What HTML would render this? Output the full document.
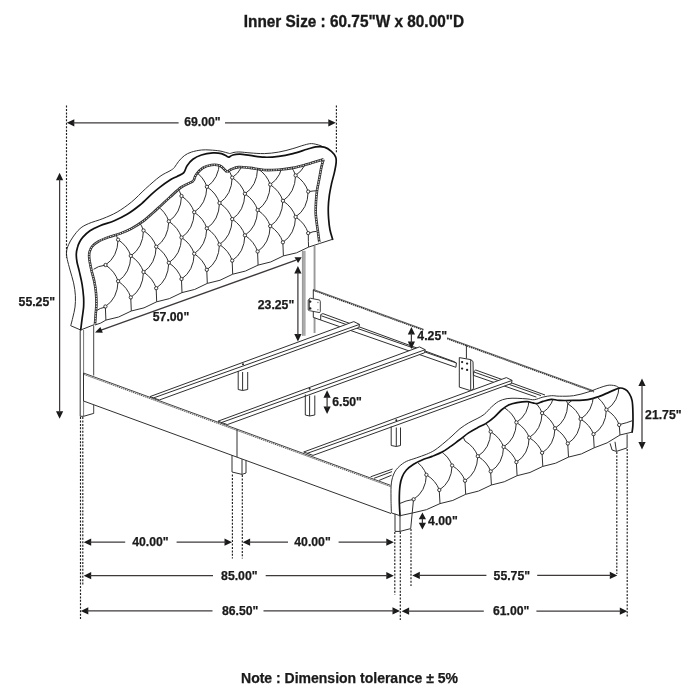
<!DOCTYPE html><html><head><meta charset="utf-8"><title>Bed dimensions</title><style>html,body{margin:0;padding:0;background:#fff}svg{display:block}</style></head><body><svg width="700" height="700" viewBox="0 0 700 700" style="will-change:transform;font-family:'Liberation Sans',sans-serif;font-weight:bold;fill:#1a1a1a;stroke-linecap:butt">
<rect width="700" height="700" fill="#fff"/>
<text x="243.8" y="26.8" font-size="16.3" textLength="220.3" lengthAdjust="spacingAndGlyphs" stroke="#1a1a1a" stroke-width="0.35">Inner Size : 60.75&quot;W x 80.00&quot;D</text>
<text x="349.5" y="682.5" font-size="14.0" text-anchor="middle" stroke="#1a1a1a" stroke-width="0.25">Note : Dimension tolerance ± 5%</text>
<path d="M70.7 325.7 C71.1 324.3 72.2 320.2 72.9 317.1 C73.6 314.0 74.6 310.7 75.0 307.1 C75.4 303.5 75.6 299.7 75.4 295.7 C75.2 291.7 74.5 287.2 73.6 282.9 C72.7 278.6 71.0 273.9 70.0 270.0 C69.0 266.1 67.9 262.5 67.3 259.5 C66.7 256.5 66.3 254.5 66.5 252.0 C66.7 249.5 67.5 247.1 68.6 244.6 C69.7 242.1 71.0 239.8 72.9 237.1 C74.8 234.4 77.4 230.8 80.0 228.6 C82.6 226.3 84.8 225.3 88.6 223.6 C92.4 221.9 98.2 220.5 102.9 218.6 C107.7 216.7 112.3 214.8 117.1 212.1 C121.8 209.3 126.6 206.0 131.4 202.1 C136.2 198.2 140.9 192.9 145.7 188.6 C150.5 184.3 155.9 179.4 160.0 176.4 C164.1 173.4 167.6 172.3 170.0 170.8 C172.4 169.3 172.9 169.2 174.3 167.6 C175.7 166.0 176.9 163.4 178.6 161.4 C180.3 159.4 182.2 157.2 184.3 155.7 C186.4 154.1 188.6 153.0 191.4 152.1 C194.2 151.2 198.3 150.3 201.4 150.0 C204.5 149.7 206.9 149.8 210.0 150.0 C213.1 150.2 217.2 150.5 220.0 151.0 C222.8 151.5 225.3 152.4 227.0 152.8 C228.7 153.2 229.5 153.5 230.0 153.6" fill="none" stroke="#303030" stroke-width="1.0" />
<path d="M230.0 153.6 C230.7 153.4 232.3 152.7 234.0 152.4 C235.7 152.1 237.3 151.9 240.0 152.0 C242.7 152.1 245.9 152.6 250.0 152.9 C254.1 153.2 259.5 153.7 264.3 153.6 C269.1 153.5 273.8 152.9 278.6 152.1 C283.4 151.3 288.6 149.8 292.9 148.6 C297.2 147.4 301.2 145.8 304.3 145.0 C307.4 144.2 309.0 143.6 311.4 143.6 C313.8 143.6 316.7 144.5 318.6 145.0 C320.5 145.5 322.3 146.5 323.0 146.8" fill="none" stroke="#303030" stroke-width="1.0" />
<path d="M70.7 325.7 L80.7 330.0" fill="none" stroke="#303030" stroke-width="1.0" />
<path d="M80.7 330.0 C80.9 328.1 81.6 322.4 82.1 318.6 C82.6 314.8 83.3 310.7 83.6 307.1 C83.8 303.5 83.8 300.9 83.6 297.1 C83.3 293.3 82.8 288.6 82.1 284.3 C81.4 280.0 80.1 275.1 79.3 271.4 C78.5 267.7 77.5 264.9 77.0 262.0 C76.5 259.1 76.2 256.5 76.3 254.0 C76.4 251.5 77.0 249.0 77.6 247.0 C78.1 245.0 78.7 243.7 79.6 242.0 C80.5 240.3 81.2 239.0 82.9 237.1 C84.6 235.2 87.2 232.6 90.0 230.7 C92.8 228.8 96.0 227.4 100.0 225.7 C104.0 224.0 109.8 222.6 114.3 220.7 C118.8 218.8 122.8 216.9 127.1 214.3 C131.4 211.7 135.9 208.3 140.0 205.0 C144.1 201.7 148.1 197.3 151.4 194.3 C154.7 191.3 156.9 189.5 160.0 187.1 C163.1 184.7 167.2 181.8 170.0 180.0 C172.8 178.2 174.8 177.6 177.1 176.4 C179.4 175.2 181.9 174.7 183.6 172.9 C185.3 171.1 185.5 168.0 187.1 165.7 C188.7 163.4 190.5 161.1 192.9 159.3 C195.3 157.5 198.1 156.1 201.4 155.0 C204.7 153.9 209.6 153.1 212.9 152.9 C216.2 152.7 219.0 153.0 221.4 153.6 C223.8 154.2 225.8 155.8 227.1 156.4 C228.4 157.0 228.7 157.1 229.0 157.2 M229.0 157.2 C229.7 156.8 231.1 155.5 232.9 155.0 C234.7 154.5 237.2 154.1 240.0 154.2 C242.8 154.3 245.9 154.9 250.0 155.4 C254.1 155.9 259.5 157.0 264.3 157.2 C269.1 157.4 273.8 157.0 278.6 156.4 C283.4 155.8 288.1 154.8 292.9 153.6 C297.6 152.4 303.3 150.4 307.1 149.3 C310.9 148.2 312.8 147.3 315.7 146.9 C318.6 146.5 321.7 146.3 324.3 147.1 C326.9 147.8 329.5 149.7 331.4 151.4 C333.3 153.1 334.9 155.2 335.7 157.1 C336.5 159.0 336.3 160.3 336.1 162.9 C335.9 165.5 335.1 169.3 334.3 172.9 C333.5 176.5 332.2 180.5 331.4 184.3 C330.6 188.1 329.8 191.9 329.3 195.7 C328.8 199.5 328.4 203.3 328.3 207.1 C328.2 210.9 328.3 214.8 328.6 218.6 C328.9 222.4 329.3 226.6 330.0 230.0 C330.7 233.4 332.2 237.8 332.6 239.3" fill="none" stroke="#111" stroke-width="1.7" stroke-linecap="round" stroke-linejoin="round"/>
<path d="M95.0 324.3 C95.1 322.6 95.5 317.6 95.7 314.3 C95.9 311.0 96.4 307.9 96.4 304.3 C96.5 300.7 96.3 296.7 96.0 292.9 C95.7 289.1 95.1 285.2 94.3 281.4 C93.5 277.6 92.2 273.8 91.4 270.0 C90.6 266.2 89.6 261.6 89.3 258.6 C89.0 255.6 89.0 254.0 89.5 252.0 C90.0 250.0 90.6 248.3 92.1 246.5 C93.6 244.7 95.8 243.0 98.6 241.4 C101.3 239.8 105.0 238.4 108.6 237.1 C112.2 235.8 116.2 235.0 120.0 233.6 C123.8 232.2 127.6 230.6 131.4 228.6 C135.2 226.6 139.3 224.0 142.9 221.4 C146.5 218.8 150.1 215.4 152.9 212.9 C155.8 210.4 157.2 209.0 160.0 206.4 C162.8 203.8 166.4 200.3 170.0 197.1 C173.6 193.9 177.8 189.6 181.4 187.1 C185.0 184.6 189.4 183.2 191.4 182.1 C193.4 181.0 193.2 180.9 193.6 180.7 M193.6 180.7 C194.1 179.6 194.8 176.4 196.4 174.3 C198.0 172.2 200.4 169.5 202.9 167.9 C205.4 166.3 208.6 165.4 211.4 165.0 C214.2 164.6 217.7 164.9 220.0 165.7 C222.3 166.5 223.8 168.9 225.0 170.0 C226.2 171.1 226.8 171.8 227.1 172.1 M227.1 172.1 C227.8 171.6 229.5 170.1 231.4 169.3 C233.3 168.5 235.5 167.3 238.6 167.1 C241.7 166.9 245.7 167.4 250.0 167.9 C254.3 168.4 259.5 169.7 264.3 170.0 C269.1 170.3 273.8 170.0 278.6 169.7 C283.4 169.3 288.1 168.8 292.9 167.9 C297.6 167.0 302.0 165.7 307.1 164.3 C312.2 162.9 320.9 160.1 323.6 159.3 M323.6 159.3 C323.2 160.6 322.1 163.9 321.4 167.1 C320.7 170.3 320.0 174.8 319.3 178.6 C318.6 182.4 317.7 186.2 317.1 190.0 C316.6 193.8 316.2 197.6 316.0 201.4 C315.8 205.2 315.6 209.1 315.7 212.9 C315.8 216.7 316.5 221.2 316.9 224.3 C317.3 227.4 317.5 228.4 317.9 231.4 C318.3 234.4 319.1 240.3 319.3 242.1" fill="none" stroke="#303030" stroke-width="2.6" />
<path d="M95.0 324.3 C95.1 322.6 95.5 317.6 95.7 314.3 C95.9 311.0 96.4 307.9 96.4 304.3 C96.5 300.7 96.3 296.7 96.0 292.9 C95.7 289.1 95.1 285.2 94.3 281.4 C93.5 277.6 92.2 273.8 91.4 270.0 C90.6 266.2 89.6 261.6 89.3 258.6 C89.0 255.6 89.0 254.0 89.5 252.0 C90.0 250.0 90.6 248.3 92.1 246.5 C93.6 244.7 95.8 243.0 98.6 241.4 C101.3 239.8 105.0 238.4 108.6 237.1 C112.2 235.8 116.2 235.0 120.0 233.6 C123.8 232.2 127.6 230.6 131.4 228.6 C135.2 226.6 139.3 224.0 142.9 221.4 C146.5 218.8 150.1 215.4 152.9 212.9 C155.8 210.4 157.2 209.0 160.0 206.4 C162.8 203.8 166.4 200.3 170.0 197.1 C173.6 193.9 177.8 189.6 181.4 187.1 C185.0 184.6 189.4 183.2 191.4 182.1 C193.4 181.0 193.2 180.9 193.6 180.7 M193.6 180.7 C194.1 179.6 194.8 176.4 196.4 174.3 C198.0 172.2 200.4 169.5 202.9 167.9 C205.4 166.3 208.6 165.4 211.4 165.0 C214.2 164.6 217.7 164.9 220.0 165.7 C222.3 166.5 223.8 168.9 225.0 170.0 C226.2 171.1 226.8 171.8 227.1 172.1 M227.1 172.1 C227.8 171.6 229.5 170.1 231.4 169.3 C233.3 168.5 235.5 167.3 238.6 167.1 C241.7 166.9 245.7 167.4 250.0 167.9 C254.3 168.4 259.5 169.7 264.3 170.0 C269.1 170.3 273.8 170.0 278.6 169.7 C283.4 169.3 288.1 168.8 292.9 167.9 C297.6 167.0 302.0 165.7 307.1 164.3 C312.2 162.9 320.9 160.1 323.6 159.3 M323.6 159.3 C323.2 160.6 322.1 163.9 321.4 167.1 C320.7 170.3 320.0 174.8 319.3 178.6 C318.6 182.4 317.7 186.2 317.1 190.0 C316.6 193.8 316.2 197.6 316.0 201.4 C315.8 205.2 315.6 209.1 315.7 212.9 C315.8 216.7 316.5 221.2 316.9 224.3 C317.3 227.4 317.5 228.4 317.9 231.4 C318.3 234.4 319.1 240.3 319.3 242.1" fill="none" stroke="#fff" stroke-width="0.9" stroke-dasharray="1.4 1.1"/>
<clipPath id="hbclip"><path d="M95.0 324.3 L95.7 314.3 L96.4 304.3 L96.0 292.9 L94.3 281.4 L91.4 270.0 L89.3 258.6 L89.5 252.0 L92.1 246.5 L98.6 241.4 L108.6 237.1 L120.0 233.6 L131.4 228.6 L142.9 221.4 L152.9 212.9 L160.0 206.4 L170.0 197.1 L181.4 187.1 L191.4 182.1 L193.6 180.7 L196.4 174.3 L202.9 167.9 L211.4 165.0 L220.0 165.7 L225.0 170.0 L227.1 172.1 L231.4 169.3 L238.6 167.1 L250.0 167.9 L264.3 170.0 L278.6 169.7 L292.9 167.9 L307.1 164.3 L323.6 159.3 L321.4 167.1 L319.3 178.6 L317.1 190.0 L316.0 201.4 L315.7 212.9 L316.9 224.3 L317.9 231.4 L319.3 242.1 L308.6 247.1 L283.4 255.9 L258.1 265.1 L232.7 274.2 L207.3 283.4 L182.0 292.6 L156.7 301.8 L131.3 311.0 L105.9 320.1 L95 325 Z"/></clipPath>
<g clip-path="url(#hbclip)">
<path d="M67.4 133.6 Q76.9 139.9 80.1 149.7" fill="none" stroke="#303030" stroke-width="1.0" />
<path d="M67.4 133.6 Q66.9 150.9 54.7 158.9" fill="none" stroke="#303030" stroke-width="1.0" />
<path d="M92.8 124.4 Q102.3 130.7 105.5 140.5" fill="none" stroke="#303030" stroke-width="1.0" />
<path d="M92.8 124.4 Q92.3 141.7 80.1 149.7" fill="none" stroke="#303030" stroke-width="1.0" />
<path d="M80.1 149.7 Q89.6 156.0 92.8 165.9" fill="none" stroke="#303030" stroke-width="1.0" />
<path d="M80.1 149.7 Q79.6 167.0 67.4 175.1" fill="none" stroke="#303030" stroke-width="1.0" />
<path d="M67.4 175.1 Q76.9 181.4 80.1 191.2" fill="none" stroke="#303030" stroke-width="1.0" />
<path d="M67.4 175.1 Q66.9 192.4 54.7 200.4" fill="none" stroke="#303030" stroke-width="1.0" />
<path d="M105.5 140.5 Q115.0 146.8 118.1 156.7" fill="none" stroke="#303030" stroke-width="1.0" />
<path d="M105.5 140.5 Q105.0 157.8 92.8 165.9" fill="none" stroke="#303030" stroke-width="1.0" />
<path d="M92.8 165.9 Q102.3 172.2 105.5 182.0" fill="none" stroke="#303030" stroke-width="1.0" />
<path d="M92.8 165.9 Q92.3 183.2 80.1 191.2" fill="none" stroke="#303030" stroke-width="1.0" />
<path d="M80.1 191.2 Q89.6 197.5 92.8 207.4" fill="none" stroke="#303030" stroke-width="1.0" />
<path d="M80.1 191.2 Q79.6 208.5 67.4 216.6" fill="none" stroke="#303030" stroke-width="1.0" />
<path d="M67.4 216.6 Q76.9 222.9 80.1 232.7" fill="none" stroke="#303030" stroke-width="1.0" />
<path d="M67.4 216.6 Q66.9 233.9 54.8 241.9" fill="none" stroke="#303030" stroke-width="1.0" />
<path d="M130.8 131.4 Q140.3 137.7 143.5 147.5" fill="none" stroke="#303030" stroke-width="1.0" />
<path d="M130.8 131.4 Q130.3 148.7 118.1 156.7" fill="none" stroke="#303030" stroke-width="1.0" />
<path d="M118.1 156.7 Q127.6 163.0 130.8 172.9" fill="none" stroke="#303030" stroke-width="1.0" />
<path d="M118.1 156.7 Q117.6 174.0 105.5 182.0" fill="none" stroke="#303030" stroke-width="1.0" />
<path d="M105.5 182.0 Q115.0 188.3 118.1 198.2" fill="none" stroke="#303030" stroke-width="1.0" />
<path d="M105.5 182.0 Q105.0 199.3 92.8 207.4" fill="none" stroke="#303030" stroke-width="1.0" />
<path d="M92.8 207.4 Q102.3 213.7 105.4 223.5" fill="none" stroke="#303030" stroke-width="1.0" />
<path d="M92.8 207.4 Q92.3 224.7 80.1 232.7" fill="none" stroke="#303030" stroke-width="1.0" />
<path d="M67.4 258.1 Q66.9 275.4 54.8 283.4" fill="none" stroke="#303030" stroke-width="1.0" />
<path d="M156.2 122.2 Q165.7 128.5 168.8 138.3" fill="none" stroke="#303030" stroke-width="1.0" />
<path d="M156.2 122.2 Q155.7 139.5 143.5 147.5" fill="none" stroke="#303030" stroke-width="1.0" />
<path d="M143.5 147.5 Q153.0 153.8 156.2 163.7" fill="none" stroke="#303030" stroke-width="1.0" />
<path d="M143.5 147.5 Q143.0 164.8 130.8 172.9" fill="none" stroke="#303030" stroke-width="1.0" />
<path d="M130.8 172.9 Q140.3 179.2 143.5 189.0" fill="none" stroke="#303030" stroke-width="1.0" />
<path d="M130.8 172.9 Q130.3 190.2 118.1 198.2" fill="none" stroke="#303030" stroke-width="1.0" />
<path d="M118.1 198.2 Q127.6 204.5 130.8 214.4" fill="none" stroke="#303030" stroke-width="1.0" />
<path d="M118.1 198.2 Q117.6 215.5 105.4 223.5" fill="none" stroke="#303030" stroke-width="1.0" />
<path d="M105.4 223.5 Q114.9 229.8 118.1 239.7" fill="none" stroke="#303030" stroke-width="1.0" />
<path d="M67.4 299.6 Q76.9 305.9 80.1 315.7" fill="none" stroke="#303030" stroke-width="1.0" />
<path d="M67.4 299.6 Q66.9 316.9 54.7 324.9" fill="none" stroke="#303030" stroke-width="1.0" />
<path d="M168.8 138.3 Q178.3 144.6 181.5 154.5" fill="none" stroke="#303030" stroke-width="1.0" />
<path d="M168.8 138.3 Q168.3 155.6 156.2 163.7" fill="none" stroke="#303030" stroke-width="1.0" />
<path d="M156.2 163.7 Q165.7 170.0 168.8 179.8" fill="none" stroke="#303030" stroke-width="1.0" />
<path d="M156.2 163.7 Q155.7 181.0 143.5 189.0" fill="none" stroke="#303030" stroke-width="1.0" />
<path d="M143.5 189.0 Q153.0 195.3 156.1 205.2" fill="none" stroke="#303030" stroke-width="1.0" />
<path d="M143.5 189.0 Q143.0 206.3 130.8 214.4" fill="none" stroke="#303030" stroke-width="1.0" />
<path d="M130.8 214.4 Q140.3 220.7 143.5 230.5" fill="none" stroke="#303030" stroke-width="1.0" />
<path d="M118.1 239.7 Q127.6 246.0 130.8 255.9" fill="none" stroke="#303030" stroke-width="1.0" />
<path d="M118.1 239.7 Q117.6 257.0 105.5 265.0" fill="none" stroke="#303030" stroke-width="1.0" />
<path d="M105.5 265.0 Q115.0 271.3 118.1 281.2" fill="none" stroke="#303030" stroke-width="1.0" />
<path d="M194.2 129.2 Q203.7 135.5 206.8 145.3" fill="none" stroke="#303030" stroke-width="1.0" />
<path d="M194.2 129.2 Q193.7 146.5 181.5 154.5" fill="none" stroke="#303030" stroke-width="1.0" />
<path d="M181.5 154.5 Q191.0 160.8 194.2 170.7" fill="none" stroke="#303030" stroke-width="1.0" />
<path d="M181.5 154.5 Q181.0 171.8 168.8 179.8" fill="none" stroke="#303030" stroke-width="1.0" />
<path d="M168.8 179.8 Q178.3 186.1 181.5 196.0" fill="none" stroke="#303030" stroke-width="1.0" />
<path d="M168.8 179.8 Q168.3 197.1 156.1 205.2" fill="none" stroke="#303030" stroke-width="1.0" />
<path d="M156.1 205.2 Q165.6 211.5 168.8 221.3" fill="none" stroke="#303030" stroke-width="1.0" />
<path d="M143.5 230.5 Q153.0 236.8 156.2 246.7" fill="none" stroke="#303030" stroke-width="1.0" />
<path d="M143.5 230.5 Q143.0 247.8 130.8 255.9" fill="none" stroke="#303030" stroke-width="1.0" />
<path d="M130.8 255.9 Q140.3 262.2 143.5 272.0" fill="none" stroke="#303030" stroke-width="1.0" />
<path d="M130.8 255.9 Q130.3 273.2 118.1 281.2" fill="none" stroke="#303030" stroke-width="1.0" />
<path d="M118.1 281.2 Q127.6 287.5 130.8 297.4" fill="none" stroke="#303030" stroke-width="1.0" />
<path d="M118.1 281.2 Q117.6 298.5 105.4 306.5" fill="none" stroke="#303030" stroke-width="1.0" />
<path d="M206.8 145.3 Q216.3 151.6 219.5 161.5" fill="none" stroke="#303030" stroke-width="1.0" />
<path d="M206.8 145.3 Q206.3 162.6 194.2 170.7" fill="none" stroke="#303030" stroke-width="1.0" />
<path d="M194.2 170.7 Q203.7 177.0 206.9 186.8" fill="none" stroke="#303030" stroke-width="1.0" />
<path d="M181.5 196.0 Q191.0 202.3 194.2 212.2" fill="none" stroke="#303030" stroke-width="1.0" />
<path d="M181.5 196.0 Q181.0 213.3 168.8 221.3" fill="none" stroke="#303030" stroke-width="1.0" />
<path d="M168.8 221.3 Q178.3 227.6 181.5 237.5" fill="none" stroke="#303030" stroke-width="1.0" />
<path d="M168.8 221.3 Q168.3 238.6 156.2 246.7" fill="none" stroke="#303030" stroke-width="1.0" />
<path d="M156.2 246.7 Q165.7 253.0 168.8 262.8" fill="none" stroke="#303030" stroke-width="1.0" />
<path d="M156.2 246.7 Q155.7 264.0 143.5 272.0" fill="none" stroke="#303030" stroke-width="1.0" />
<path d="M143.5 272.0 Q153.0 278.3 156.2 288.2" fill="none" stroke="#303030" stroke-width="1.0" />
<path d="M143.5 272.0 Q143.0 289.3 130.8 297.4" fill="none" stroke="#303030" stroke-width="1.0" />
<path d="M232.2 136.1 Q241.7 142.4 244.9 152.3" fill="none" stroke="#303030" stroke-width="1.0" />
<path d="M232.2 136.1 Q231.7 153.4 219.5 161.5" fill="none" stroke="#303030" stroke-width="1.0" />
<path d="M219.5 161.5 Q229.0 167.8 232.2 177.6" fill="none" stroke="#303030" stroke-width="1.0" />
<path d="M219.5 161.5 Q219.0 178.8 206.9 186.8" fill="none" stroke="#303030" stroke-width="1.0" />
<path d="M206.9 186.8 Q216.4 193.1 219.5 203.0" fill="none" stroke="#303030" stroke-width="1.0" />
<path d="M206.9 186.8 Q206.4 204.1 194.2 212.2" fill="none" stroke="#303030" stroke-width="1.0" />
<path d="M194.2 212.2 Q203.7 218.5 206.8 228.3" fill="none" stroke="#303030" stroke-width="1.0" />
<path d="M194.2 212.2 Q193.7 229.5 181.5 237.5" fill="none" stroke="#303030" stroke-width="1.0" />
<path d="M181.5 237.5 Q191.0 243.8 194.2 253.7" fill="none" stroke="#303030" stroke-width="1.0" />
<path d="M181.5 237.5 Q181.0 254.8 168.8 262.8" fill="none" stroke="#303030" stroke-width="1.0" />
<path d="M168.8 262.8 Q178.3 269.1 181.5 279.0" fill="none" stroke="#303030" stroke-width="1.0" />
<path d="M168.8 262.8 Q168.3 280.1 156.2 288.2" fill="none" stroke="#303030" stroke-width="1.0" />
<path d="M257.6 127.0 Q267.1 133.3 270.2 143.1" fill="none" stroke="#303030" stroke-width="1.0" />
<path d="M257.6 127.0 Q257.1 144.3 244.9 152.3" fill="none" stroke="#303030" stroke-width="1.0" />
<path d="M244.9 152.3 Q254.4 158.6 257.6 168.5" fill="none" stroke="#303030" stroke-width="1.0" />
<path d="M244.9 152.3 Q244.4 169.6 232.2 177.6" fill="none" stroke="#303030" stroke-width="1.0" />
<path d="M232.2 177.6 Q241.7 183.9 244.9 193.8" fill="none" stroke="#303030" stroke-width="1.0" />
<path d="M232.2 177.6 Q231.7 194.9 219.5 203.0" fill="none" stroke="#303030" stroke-width="1.0" />
<path d="M219.5 203.0 Q229.0 209.3 232.2 219.1" fill="none" stroke="#303030" stroke-width="1.0" />
<path d="M219.5 203.0 Q219.0 220.3 206.8 228.3" fill="none" stroke="#303030" stroke-width="1.0" />
<path d="M206.8 228.3 Q216.3 234.6 219.5 244.5" fill="none" stroke="#303030" stroke-width="1.0" />
<path d="M206.8 228.3 Q206.3 245.6 194.2 253.7" fill="none" stroke="#303030" stroke-width="1.0" />
<path d="M194.2 253.7 Q203.7 260.0 206.8 269.8" fill="none" stroke="#303030" stroke-width="1.0" />
<path d="M194.2 253.7 Q193.7 271.0 181.5 279.0" fill="none" stroke="#303030" stroke-width="1.0" />
<path d="M270.2 143.1 Q279.7 149.4 282.9 159.3" fill="none" stroke="#303030" stroke-width="1.0" />
<path d="M270.2 143.1 Q269.7 160.4 257.6 168.5" fill="none" stroke="#303030" stroke-width="1.0" />
<path d="M257.6 168.5 Q267.1 174.8 270.2 184.6" fill="none" stroke="#303030" stroke-width="1.0" />
<path d="M257.6 168.5 Q257.1 185.8 244.9 193.8" fill="none" stroke="#303030" stroke-width="1.0" />
<path d="M244.9 193.8 Q254.4 200.1 257.6 210.0" fill="none" stroke="#303030" stroke-width="1.0" />
<path d="M244.9 193.8 Q244.4 211.1 232.2 219.1" fill="none" stroke="#303030" stroke-width="1.0" />
<path d="M232.2 219.1 Q241.7 225.4 244.9 235.3" fill="none" stroke="#303030" stroke-width="1.0" />
<path d="M232.2 219.1 Q231.7 236.4 219.5 244.5" fill="none" stroke="#303030" stroke-width="1.0" />
<path d="M219.5 244.5 Q229.0 250.8 232.2 260.6" fill="none" stroke="#303030" stroke-width="1.0" />
<path d="M219.5 244.5 Q219.0 261.8 206.8 269.8" fill="none" stroke="#303030" stroke-width="1.0" />
<path d="M295.6 133.9 Q305.1 140.2 308.2 150.1" fill="none" stroke="#303030" stroke-width="1.0" />
<path d="M295.6 133.9 Q295.1 151.2 282.9 159.3" fill="none" stroke="#303030" stroke-width="1.0" />
<path d="M282.9 159.3 Q292.4 165.6 295.6 175.4" fill="none" stroke="#303030" stroke-width="1.0" />
<path d="M282.9 159.3 Q282.4 176.6 270.2 184.6" fill="none" stroke="#303030" stroke-width="1.0" />
<path d="M270.2 184.6 Q279.7 190.9 282.9 200.8" fill="none" stroke="#303030" stroke-width="1.0" />
<path d="M270.2 184.6 Q269.7 201.9 257.6 210.0" fill="none" stroke="#303030" stroke-width="1.0" />
<path d="M257.6 210.0 Q267.1 216.3 270.2 226.1" fill="none" stroke="#303030" stroke-width="1.0" />
<path d="M257.6 210.0 Q257.1 227.3 244.9 235.3" fill="none" stroke="#303030" stroke-width="1.0" />
<path d="M244.9 235.3 Q254.4 241.6 257.6 251.5" fill="none" stroke="#303030" stroke-width="1.0" />
<path d="M244.9 235.3 Q244.4 252.6 232.2 260.6" fill="none" stroke="#303030" stroke-width="1.0" />
<path d="M320.9 124.8 Q330.4 131.1 333.6 140.9" fill="none" stroke="#303030" stroke-width="1.0" />
<path d="M320.9 124.8 Q320.4 142.1 308.2 150.1" fill="none" stroke="#303030" stroke-width="1.0" />
<path d="M308.2 150.1 Q307.8 167.4 295.6 175.4" fill="none" stroke="#303030" stroke-width="1.0" />
<path d="M295.6 175.4 Q305.1 181.7 308.2 191.6" fill="none" stroke="#303030" stroke-width="1.0" />
<path d="M295.6 175.4 Q295.1 192.7 282.9 200.8" fill="none" stroke="#303030" stroke-width="1.0" />
<path d="M282.9 200.8 Q292.4 207.1 295.6 216.9" fill="none" stroke="#303030" stroke-width="1.0" />
<path d="M282.9 200.8 Q282.4 218.1 270.2 226.1" fill="none" stroke="#303030" stroke-width="1.0" />
<path d="M270.2 226.1 Q279.7 232.4 282.9 242.3" fill="none" stroke="#303030" stroke-width="1.0" />
<path d="M270.2 226.1 Q269.7 243.4 257.6 251.5" fill="none" stroke="#303030" stroke-width="1.0" />
<path d="M333.6 140.9 Q343.1 147.2 346.3 157.1" fill="none" stroke="#303030" stroke-width="1.0" />
<path d="M333.6 140.9 Q333.1 158.2 320.9 166.3" fill="none" stroke="#303030" stroke-width="1.0" />
<path d="M308.2 191.6 Q307.8 208.9 295.6 216.9" fill="none" stroke="#303030" stroke-width="1.0" />
<path d="M295.6 216.9 Q305.1 223.2 308.2 233.1" fill="none" stroke="#303030" stroke-width="1.0" />
<path d="M295.6 216.9 Q295.1 234.2 282.9 242.3" fill="none" stroke="#303030" stroke-width="1.0" />
<path d="M346.3 157.1 Q355.8 163.4 358.9 173.2" fill="none" stroke="#303030" stroke-width="1.0" />
<path d="M346.3 157.1 Q345.8 174.4 333.6 182.4" fill="none" stroke="#303030" stroke-width="1.0" />
<path d="M333.6 182.4 Q343.1 188.7 346.3 198.6" fill="none" stroke="#303030" stroke-width="1.0" />
<path d="M333.6 182.4 Q333.1 199.7 320.9 207.8" fill="none" stroke="#303030" stroke-width="1.0" />
<path d="M346.3 198.6 Q355.8 204.9 358.9 214.7" fill="none" stroke="#303030" stroke-width="1.0" />
<path d="M346.3 198.6 Q345.8 215.9 333.6 223.9" fill="none" stroke="#303030" stroke-width="1.0" />
</g>
<circle cx="118.1" cy="239.7" r="1.65" fill="#fff" stroke="#303030" stroke-width="0.95"/>
<circle cx="105.5" cy="265.0" r="1.65" fill="#fff" stroke="#303030" stroke-width="0.95"/>
<circle cx="143.5" cy="230.5" r="1.65" fill="#fff" stroke="#303030" stroke-width="0.95"/>
<circle cx="130.8" cy="255.9" r="1.65" fill="#fff" stroke="#303030" stroke-width="0.95"/>
<circle cx="118.1" cy="281.2" r="1.65" fill="#fff" stroke="#303030" stroke-width="0.95"/>
<circle cx="105.4" cy="306.5" r="1.65" fill="#fff" stroke="#303030" stroke-width="0.95"/>
<circle cx="181.5" cy="196.0" r="1.65" fill="#fff" stroke="#303030" stroke-width="0.95"/>
<circle cx="168.8" cy="221.3" r="1.65" fill="#fff" stroke="#303030" stroke-width="0.95"/>
<circle cx="156.2" cy="246.7" r="1.65" fill="#fff" stroke="#303030" stroke-width="0.95"/>
<circle cx="143.5" cy="272.0" r="1.65" fill="#fff" stroke="#303030" stroke-width="0.95"/>
<circle cx="130.8" cy="297.4" r="1.65" fill="#fff" stroke="#303030" stroke-width="0.95"/>
<circle cx="206.9" cy="186.8" r="1.65" fill="#fff" stroke="#303030" stroke-width="0.95"/>
<circle cx="194.2" cy="212.2" r="1.65" fill="#fff" stroke="#303030" stroke-width="0.95"/>
<circle cx="181.5" cy="237.5" r="1.65" fill="#fff" stroke="#303030" stroke-width="0.95"/>
<circle cx="168.8" cy="262.8" r="1.65" fill="#fff" stroke="#303030" stroke-width="0.95"/>
<circle cx="156.2" cy="288.2" r="1.65" fill="#fff" stroke="#303030" stroke-width="0.95"/>
<circle cx="232.2" cy="177.6" r="1.65" fill="#fff" stroke="#303030" stroke-width="0.95"/>
<circle cx="219.5" cy="203.0" r="1.65" fill="#fff" stroke="#303030" stroke-width="0.95"/>
<circle cx="206.8" cy="228.3" r="1.65" fill="#fff" stroke="#303030" stroke-width="0.95"/>
<circle cx="194.2" cy="253.7" r="1.65" fill="#fff" stroke="#303030" stroke-width="0.95"/>
<circle cx="181.5" cy="279.0" r="1.65" fill="#fff" stroke="#303030" stroke-width="0.95"/>
<circle cx="244.9" cy="193.8" r="1.65" fill="#fff" stroke="#303030" stroke-width="0.95"/>
<circle cx="232.2" cy="219.1" r="1.65" fill="#fff" stroke="#303030" stroke-width="0.95"/>
<circle cx="219.5" cy="244.5" r="1.65" fill="#fff" stroke="#303030" stroke-width="0.95"/>
<circle cx="206.8" cy="269.8" r="1.65" fill="#fff" stroke="#303030" stroke-width="0.95"/>
<circle cx="270.2" cy="184.6" r="1.65" fill="#fff" stroke="#303030" stroke-width="0.95"/>
<circle cx="257.6" cy="210.0" r="1.65" fill="#fff" stroke="#303030" stroke-width="0.95"/>
<circle cx="244.9" cy="235.3" r="1.65" fill="#fff" stroke="#303030" stroke-width="0.95"/>
<circle cx="232.2" cy="260.6" r="1.65" fill="#fff" stroke="#303030" stroke-width="0.95"/>
<circle cx="295.6" cy="175.4" r="1.65" fill="#fff" stroke="#303030" stroke-width="0.95"/>
<circle cx="282.9" cy="200.8" r="1.65" fill="#fff" stroke="#303030" stroke-width="0.95"/>
<circle cx="270.2" cy="226.1" r="1.65" fill="#fff" stroke="#303030" stroke-width="0.95"/>
<circle cx="257.6" cy="251.5" r="1.65" fill="#fff" stroke="#303030" stroke-width="0.95"/>
<circle cx="308.2" cy="191.6" r="1.65" fill="#fff" stroke="#303030" stroke-width="0.95"/>
<circle cx="295.6" cy="216.9" r="1.65" fill="#fff" stroke="#303030" stroke-width="0.95"/>
<circle cx="282.9" cy="242.3" r="1.65" fill="#fff" stroke="#303030" stroke-width="0.95"/>
<circle cx="308.2" cy="233.1" r="1.65" fill="#fff" stroke="#303030" stroke-width="0.95"/>
<path d="M95 325 Q101 323.6 105.9 320.1 Q118.6 318.5 131.3 311.0 Q144.0 309.3 156.7 301.8 Q169.3 300.1 182.0 292.6 Q194.7 290.9 207.3 283.4 Q220.0 281.7 232.7 274.2 Q245.4 272.5 258.1 265.1 Q270.7 263.4 283.4 255.9 Q297 254.2 308.6 247.1" fill="none" stroke="#303030" stroke-width="1.0" />
<line x1="105.4" y1="307.8" x2="105.9" y2="320.1" stroke="#303030" stroke-width="1.0" />
<line x1="130.8" y1="298.7" x2="131.3" y2="311.0" stroke="#303030" stroke-width="1.0" />
<line x1="156.2" y1="289.5" x2="156.7" y2="301.8" stroke="#303030" stroke-width="1.0" />
<line x1="181.5" y1="280.3" x2="182.0" y2="292.6" stroke="#303030" stroke-width="1.0" />
<line x1="206.8" y1="271.1" x2="207.3" y2="283.4" stroke="#303030" stroke-width="1.0" />
<line x1="232.2" y1="261.9" x2="232.7" y2="274.2" stroke="#303030" stroke-width="1.0" />
<line x1="257.6" y1="252.8" x2="258.1" y2="265.1" stroke="#303030" stroke-width="1.0" />
<line x1="282.9" y1="243.6" x2="283.4" y2="255.9" stroke="#303030" stroke-width="1.0" />
<path d="M308.3 234.6 Q308.3 242 308.6 247.1" fill="none" stroke="#303030" stroke-width="1.0" />
<path d="M308.6 247.1 L319.3 243.6 L332.6 239.3" fill="none" stroke="#303030" stroke-width="1.0" />
<path d="M309.6 233 Q313 231.3 316.6 231.4" fill="none" stroke="#303030" stroke-width="1.0" />
<path d="M309.6 191.5 Q313 190.8 316.8 190.8" fill="none" stroke="#303030" stroke-width="1.0" />
<path d="M104.6 307.3 Q100 308 96.4 310.7" fill="none" stroke="#303030" stroke-width="1.0" />
<path d="M104.6 265.3 Q98 266 93.6 269.3" fill="none" stroke="#303030" stroke-width="1.0" />
<path d="M80.7 330.0 L94.3 324.6" fill="none" stroke="#303030" stroke-width="1.0" />
<line x1="80.2" y1="330.4" x2="80.2" y2="416.3" stroke="#333" stroke-width="1.0" />
<line x1="83.6" y1="330.0" x2="83.6" y2="416.3" stroke="#777" stroke-width="1.0" />
<line x1="93.7" y1="325.3" x2="93.7" y2="375.5" stroke="#444" stroke-width="1.0" />
<rect x="302.3" y="250.8" width="3.3" height="85" fill="#aaa"/>
<line x1="302.4" y1="250.8" x2="302.4" y2="335.8" stroke="#777" stroke-width="0.6" />
<rect x="313.6" y="246" width="1.9" height="44" fill="#999"/>
<rect x="313.6" y="317.5" width="1.9" height="15.5" fill="#999"/>
<line x1="313.3" y1="289.4" x2="423.6" y2="329.3" stroke="#555" stroke-width="0.9" />
<line x1="313.3" y1="290.3" x2="423.6" y2="330.2" stroke="#333" stroke-width="1.3" stroke-dasharray="1.5 0.6"/>
<line x1="447.1" y1="337.8" x2="594.0" y2="390.9" stroke="#555" stroke-width="0.9" />
<line x1="447.1" y1="338.7" x2="594.0" y2="391.8" stroke="#333" stroke-width="1.3" stroke-dasharray="1.5 0.6"/>
<line x1="313.3" y1="289.7" x2="313.3" y2="317.4" stroke="#303030" stroke-width="1.0" />
<path d="M313.3 317.4 L320.7 320.0" fill="none" stroke="#303030" stroke-width="1.0" />
<path d="M320.7 320.0 L320.7 314.6 L322.9 313.6 L454.3 361.7 L456.4 363.0 L455.9 367.3 L320.7 320.0" fill="none" stroke="#303030" stroke-width="1.0" />
<line x1="321.3" y1="315.8" x2="456.4" y2="363.0" stroke="#303030" stroke-width="1.0" />
<path d="M545.0 395.0 L475.7 370.0 L473.6 371.9 L473.6 375.4 L536.4 397.1" fill="none" stroke="#303030" stroke-width="1.0" />
<line x1="473.6" y1="371.9" x2="541.0" y2="395.6" stroke="#303030" stroke-width="1.0" />
<rect x="309.3" y="298" width="11" height="12.6" rx="1.2" fill="#fff" stroke="#333" stroke-width="0.9" transform="skewY(11) translate(0,-60.1)"/>
<path d="M309.3 299.0 L308.2 300.0 L308.2 310.0 L309.3 311.0" fill="none" stroke="#333" stroke-width="0.9" />
<circle cx="310.2" cy="301.6" r="1.2" fill="#222"/>
<circle cx="310.2" cy="308.4" r="1.2" fill="#222"/>
<circle cx="317.9" cy="302.5" r="0.8" fill="#888"/>
<circle cx="317.9" cy="309.8" r="0.8" fill="#888"/>
<line x1="466.4" y1="345.2" x2="466.4" y2="358.6" stroke="#303030" stroke-width="1.0" />
<path d="M459.3 357.6 L470.7 359.6 L470.7 390.7 L459.3 387.1Z" fill="#fff" stroke="#303030" stroke-width="1.0" />
<path d="M470.7 359.6 L473.0 361.5 L473.6 388.6 L470.7 390.7" fill="none" stroke="#303030" stroke-width="1.0" />
<circle cx="462.1" cy="362.1" r="1.15" fill="#222"/>
<circle cx="467.1" cy="363.6" r="1.15" fill="#222"/>
<circle cx="462.1" cy="368.6" r="1.15" fill="#222"/>
<circle cx="467.1" cy="369.9" r="1.15" fill="#222"/>
<path d="M150.0 396.6 L353.8 321.6 L359.5 324.4 L358.8 327.5 L159.3 400.0Z" fill="#fff" stroke="#303030" stroke-width="1.0" stroke-linejoin="round"/>
<line x1="153.6" y1="397.9" x2="359.5" y2="324.4" stroke="#303030" stroke-width="1.0" />
<path d="M218.0 421.2 L419.5 346.9 L425.2 349.7 L424.5 352.8 L227.3 424.6Z" fill="#fff" stroke="#303030" stroke-width="1.0" stroke-linejoin="round"/>
<line x1="221.6" y1="422.5" x2="425.2" y2="349.7" stroke="#303030" stroke-width="1.0" />
<path d="M303.7 452.0 L506.4 377.6 L512.1 380.4 L511.4 383.5 L313.0 455.4Z" fill="#fff" stroke="#303030" stroke-width="1.0" stroke-linejoin="round"/>
<line x1="307.3" y1="453.3" x2="512.1" y2="380.4" stroke="#303030" stroke-width="1.0" />
<path d="M238.2 371.0 L238.2 389.5 L242.6 390.5 L247.7 389.5 L247.7 372.0" fill="none" stroke="#303030" stroke-width="1.0" />
<line x1="242.6" y1="372.0" x2="242.6" y2="390.5" stroke="#303030" stroke-width="1.0" />
<path d="M305.3 394.5 L305.3 415.0 L309.6 416.0 L314.8 415.0 L314.8 395.5" fill="none" stroke="#303030" stroke-width="1.0" />
<line x1="309.6" y1="395.5" x2="309.6" y2="416.0" stroke="#303030" stroke-width="1.0" />
<path d="M391.2 426.5 L391.2 445.5 L396.3 446.5 L400.5 445.5 L400.5 427.5" fill="none" stroke="#303030" stroke-width="1.0" />
<line x1="396.3" y1="427.5" x2="396.3" y2="446.5" stroke="#303030" stroke-width="1.0" />
<circle cx="243.0" cy="364.2" r="1.0" fill="#222"/>
<circle cx="309.6" cy="388.8" r="1.0" fill="#222"/>
<circle cx="396.3" cy="420.3" r="1.0" fill="#222"/>
<path d="M83.5 373.0 L390.5 485.3 L391.0 513.5 L83.5 401.0Z" fill="#fff" stroke="none" stroke-width="0" />
<line x1="83.5" y1="373.0" x2="390.5" y2="485.3" stroke="#444" stroke-width="1.0" />
<line x1="83.5" y1="374.3" x2="390.5" y2="486.6" stroke="#555" stroke-width="1.0" stroke-dasharray="1.4 0.7"/>
<line x1="83.5" y1="401.0" x2="391.0" y2="513.5" stroke="#303030" stroke-width="1.0" />
<line x1="83.5" y1="373.0" x2="83.5" y2="401.0" stroke="#303030" stroke-width="1.0" />
<line x1="237.0" y1="429.1" x2="237.0" y2="457.1" stroke="#303030" stroke-width="1.0" />
<line x1="93.7" y1="404.8" x2="93.7" y2="413.5" stroke="#444" stroke-width="1.0" />
<path d="M80.2 416.3 L83.6 416.3 L93.7 413.4" fill="none" stroke="#303030" stroke-width="1.0" />
<line x1="370.6" y1="476.8" x2="392.6" y2="469.0" stroke="#303030" stroke-width="1.0" />
<line x1="374.0" y1="478.3" x2="392.0" y2="471.6" stroke="#303030" stroke-width="1.0" />
<line x1="379.1" y1="480.4" x2="391.6" y2="475.2" stroke="#303030" stroke-width="1.0" />
<path d="M232.0 455.0 L232.0 472.0 L242.0 474.4 L246.0 473.0 L246.0 460.3" fill="none" stroke="#303030" stroke-width="1.0" />
<line x1="242.0" y1="459.2" x2="242.0" y2="474.4" stroke="#303030" stroke-width="1.0" />
<path d="M391.4 512.9 C391.3 510.3 391.0 502.1 391.0 497.1 C391.0 492.1 390.8 486.9 391.4 482.9 C391.9 478.9 393.0 475.6 394.3 472.9 C395.6 470.1 397.3 468.3 399.3 466.4 C401.3 464.5 403.5 462.8 406.4 461.4 C409.2 460.0 413.1 459.1 416.4 457.9 C419.7 456.7 423.3 455.6 426.4 454.3 C429.5 453.0 431.9 452.0 435.0 450.0 C438.1 448.0 442.2 444.4 445.0 442.1 C447.8 439.8 449.5 438.2 452.0 436.0 C454.5 433.8 457.2 430.8 460.0 428.6 C462.8 426.4 465.8 424.6 468.6 422.9 C471.5 421.2 474.5 420.0 477.1 418.6 C479.7 417.2 481.9 416.2 484.3 414.3 C486.7 412.4 489.0 409.2 491.4 407.1 C493.8 405.0 496.0 402.8 498.6 401.4 C501.2 400.0 504.0 399.1 507.1 398.6 C510.2 398.1 513.8 398.2 517.1 398.3 C520.4 398.4 524.2 398.7 527.1 398.9 C530.0 399.1 531.7 400.0 534.3 399.7 C536.9 399.4 540.0 397.8 542.9 397.1 C545.8 396.4 548.7 395.9 551.4 395.7 C554.1 395.5 555.6 396.2 559.3 396.2 C563.0 396.2 568.8 396.4 573.6 395.7 C578.4 395.0 583.6 393.4 587.9 392.1 C592.2 390.8 596.0 389.0 599.3 387.9 C602.6 386.8 605.3 385.7 607.9 385.3 C610.5 384.9 613.1 385.3 615.0 385.7 C616.9 386.1 618.6 387.5 619.3 387.9" fill="none" stroke="#303030" stroke-width="1.0" />
<path d="M400.0 515.7 C399.9 513.1 399.3 505.0 399.3 500.0 C399.3 495.0 399.5 489.5 400.0 485.7 C400.5 481.9 401.0 479.7 402.1 477.1 C403.2 474.5 404.5 472.1 406.4 470.0 C408.3 467.9 411.0 466.0 413.6 464.3 C416.2 462.6 419.0 461.3 422.1 460.0 C425.2 458.7 428.8 457.7 432.1 456.4 C435.4 455.1 439.0 453.8 442.1 452.1 C445.2 450.4 447.8 448.4 450.7 446.4 C453.6 444.4 456.3 442.2 459.3 440.0 C462.3 437.8 465.6 434.9 468.6 432.9 C471.6 430.9 474.2 429.4 477.1 427.9 C480.0 426.3 482.8 425.4 485.7 423.6 C488.6 421.8 491.7 419.4 494.3 417.1 C496.9 414.8 499.0 412.0 501.4 410.0 C503.8 408.0 506.0 406.2 508.6 405.0 C511.2 403.8 514.0 403.2 517.1 402.6 C520.2 402.1 524.5 401.6 527.1 401.7 C529.7 401.8 531.2 402.6 532.9 402.9 C534.6 403.2 535.4 403.9 537.1 403.6 C538.8 403.4 540.5 402.1 542.9 401.4 C545.3 400.7 548.7 399.5 551.4 399.3 C554.1 399.1 555.6 400.2 559.3 400.4 C563.0 400.6 568.8 400.5 573.6 400.4 C578.4 400.3 583.6 400.3 587.9 399.6 C592.2 398.9 595.7 397.6 599.3 396.4 C602.9 395.1 606.0 393.5 609.3 392.1 C612.6 390.7 616.7 388.6 619.3 388.1 C621.9 387.6 623.3 388.4 625.0 389.3 C626.7 390.2 628.1 391.7 629.3 393.6 C630.5 395.5 631.5 397.6 632.1 400.7 C632.7 403.8 632.8 408.1 632.9 412.1 C633.0 416.2 633.0 421.7 632.9 425.0 C632.8 428.3 632.2 430.9 632.1 432.1" fill="none" stroke="#111" stroke-width="1.7" stroke-linecap="round" stroke-linejoin="round"/>
<path d="M400 515.7 L412.9 512.9 Q426.4 511.1 440.0 503.6 Q452.8 501.9 465.7 494.3 Q478.5 492.5 491.4 485.0 Q504.2 483.2 517.1 475.7 Q530.0 473.9 542.8 466.4 Q555.7 464.6 568.5 457.1 Q581.4 455.4 594.2 447.8 Q607.1 444.3 620.0 435.0 L632.1 432.1" fill="none" stroke="#303030" stroke-width="1.0" />
<path d="M391.4 512.9 L400.0 515.7" fill="none" stroke="#303030" stroke-width="1.0" />
<clipPath id="fbclip"><path d="M400.0 515.7 L399.3 500.0 L400.0 485.7 L402.1 477.1 L406.4 470.0 L413.6 464.3 L422.1 460.0 L432.1 456.4 L442.1 452.1 L450.7 446.4 L459.3 440.0 L468.6 432.9 L477.1 427.9 L485.7 423.6 L494.3 417.1 L501.4 410.0 L508.6 405.0 L517.1 402.6 L527.1 401.7 L532.9 402.9 L537.1 403.6 L542.9 401.4 L551.4 399.3 L559.3 400.4 L573.6 400.4 L587.9 399.6 L599.3 396.4 L609.3 392.1 L619.3 388.1 L625.0 389.3 L629.3 393.6 L632.1 400.7 L632.9 412.1 L632.9 425.0 L632.1 432.1 L620.0 435.0 L620.0 435.0 L594.2 447.8 L568.5 457.1 L542.8 466.4 L517.1 475.7 L491.4 485.0 L465.7 494.3 L440.0 503.6 L412.9 512.9 Z"/></clipPath>
<g clip-path="url(#fbclip)">
<path d="M400.8 365.0 Q410.4 371.0 413.6 380.2" fill="none" stroke="#303030" stroke-width="1.0" />
<path d="M400.8 365.0 Q400.2 381.8 387.9 389.5" fill="none" stroke="#303030" stroke-width="1.0" />
<path d="M387.9 389.5 Q397.5 395.5 400.8 404.7" fill="none" stroke="#303030" stroke-width="1.0" />
<path d="M387.9 389.5 Q387.4 406.3 375.1 414.0" fill="none" stroke="#303030" stroke-width="1.0" />
<path d="M413.6 380.2 Q423.2 386.2 426.4 395.4" fill="none" stroke="#303030" stroke-width="1.0" />
<path d="M413.6 380.2 Q413.1 397.0 400.8 404.7" fill="none" stroke="#303030" stroke-width="1.0" />
<path d="M400.8 404.7 Q410.4 410.7 413.6 419.9" fill="none" stroke="#303030" stroke-width="1.0" />
<path d="M400.8 404.7 Q400.2 421.5 387.9 429.2" fill="none" stroke="#303030" stroke-width="1.0" />
<path d="M387.9 429.2 Q397.5 435.2 400.8 444.4" fill="none" stroke="#303030" stroke-width="1.0" />
<path d="M387.9 429.2 Q387.4 446.0 375.1 453.7" fill="none" stroke="#303030" stroke-width="1.0" />
<path d="M439.3 370.9 Q448.9 376.9 452.1 386.1" fill="none" stroke="#303030" stroke-width="1.0" />
<path d="M439.3 370.9 Q438.8 387.7 426.4 395.4" fill="none" stroke="#303030" stroke-width="1.0" />
<path d="M426.4 395.4 Q436.1 401.4 439.3 410.6" fill="none" stroke="#303030" stroke-width="1.0" />
<path d="M426.4 395.4 Q425.9 412.2 413.6 419.9" fill="none" stroke="#303030" stroke-width="1.0" />
<path d="M413.6 419.9 Q423.2 425.9 426.4 435.1" fill="none" stroke="#303030" stroke-width="1.0" />
<path d="M413.6 419.9 Q413.1 436.7 400.8 444.4" fill="none" stroke="#303030" stroke-width="1.0" />
<path d="M400.8 444.4 Q410.4 450.4 413.6 459.6" fill="none" stroke="#303030" stroke-width="1.0" />
<path d="M400.8 444.4 Q400.2 461.2 387.9 468.9" fill="none" stroke="#303030" stroke-width="1.0" />
<path d="M465.0 361.6 Q474.6 367.6 477.9 376.8" fill="none" stroke="#303030" stroke-width="1.0" />
<path d="M465.0 361.6 Q464.5 378.4 452.1 386.1" fill="none" stroke="#303030" stroke-width="1.0" />
<path d="M452.1 386.1 Q461.8 392.1 465.0 401.3" fill="none" stroke="#303030" stroke-width="1.0" />
<path d="M452.1 386.1 Q451.6 402.9 439.3 410.6" fill="none" stroke="#303030" stroke-width="1.0" />
<path d="M439.3 410.6 Q448.9 416.6 452.1 425.8" fill="none" stroke="#303030" stroke-width="1.0" />
<path d="M439.3 410.6 Q438.8 427.4 426.4 435.1" fill="none" stroke="#303030" stroke-width="1.0" />
<path d="M426.4 435.1 Q436.1 441.1 439.3 450.3" fill="none" stroke="#303030" stroke-width="1.0" />
<path d="M426.4 435.1 Q425.9 451.9 413.6 459.6" fill="none" stroke="#303030" stroke-width="1.0" />
<path d="M413.6 459.6 Q423.2 465.6 426.4 474.8" fill="none" stroke="#303030" stroke-width="1.0" />
<path d="M477.9 376.8 Q487.5 382.8 490.7 392.0" fill="none" stroke="#303030" stroke-width="1.0" />
<path d="M477.9 376.8 Q477.4 393.6 465.0 401.3" fill="none" stroke="#303030" stroke-width="1.0" />
<path d="M465.0 401.3 Q474.6 407.3 477.8 416.5" fill="none" stroke="#303030" stroke-width="1.0" />
<path d="M465.0 401.3 Q464.5 418.1 452.1 425.8" fill="none" stroke="#303030" stroke-width="1.0" />
<path d="M452.1 425.8 Q461.8 431.8 465.0 441.0" fill="none" stroke="#303030" stroke-width="1.0" />
<path d="M452.1 425.8 Q451.6 442.6 439.3 450.3" fill="none" stroke="#303030" stroke-width="1.0" />
<path d="M439.3 450.3 Q448.9 456.3 452.1 465.5" fill="none" stroke="#303030" stroke-width="1.0" />
<path d="M426.4 474.8 Q436.1 480.8 439.3 490.0" fill="none" stroke="#303030" stroke-width="1.0" />
<path d="M426.4 474.8 Q425.9 491.6 413.6 499.3" fill="none" stroke="#303030" stroke-width="1.0" />
<path d="M503.5 367.5 Q513.1 373.5 516.4 382.7" fill="none" stroke="#303030" stroke-width="1.0" />
<path d="M503.5 367.5 Q503.0 384.3 490.7 392.0" fill="none" stroke="#303030" stroke-width="1.0" />
<path d="M490.7 392.0 Q500.3 398.0 503.6 407.2" fill="none" stroke="#303030" stroke-width="1.0" />
<path d="M490.7 392.0 Q490.2 408.8 477.8 416.5" fill="none" stroke="#303030" stroke-width="1.0" />
<path d="M477.8 416.5 Q487.4 422.5 490.7 431.7" fill="none" stroke="#303030" stroke-width="1.0" />
<path d="M465.0 441.0 Q474.6 447.0 477.8 456.2" fill="none" stroke="#303030" stroke-width="1.0" />
<path d="M452.1 465.5 Q461.8 471.5 465.0 480.7" fill="none" stroke="#303030" stroke-width="1.0" />
<path d="M452.1 465.5 Q451.6 482.3 439.3 490.0" fill="none" stroke="#303030" stroke-width="1.0" />
<path d="M516.4 382.7 Q526.0 388.7 529.2 397.9" fill="none" stroke="#303030" stroke-width="1.0" />
<path d="M516.4 382.7 Q515.9 399.5 503.6 407.2" fill="none" stroke="#303030" stroke-width="1.0" />
<path d="M503.6 407.2 Q513.1 413.2 516.4 422.4" fill="none" stroke="#303030" stroke-width="1.0" />
<path d="M490.7 431.7 Q500.3 437.7 503.6 446.9" fill="none" stroke="#303030" stroke-width="1.0" />
<path d="M490.7 431.7 Q490.2 448.5 477.8 456.2" fill="none" stroke="#303030" stroke-width="1.0" />
<path d="M477.8 456.2 Q487.4 462.2 490.7 471.4" fill="none" stroke="#303030" stroke-width="1.0" />
<path d="M477.8 456.2 Q477.3 473.0 465.0 480.7" fill="none" stroke="#303030" stroke-width="1.0" />
<path d="M542.1 373.4 Q551.7 379.4 554.9 388.6" fill="none" stroke="#303030" stroke-width="1.0" />
<path d="M542.1 373.4 Q541.6 390.2 529.2 397.9" fill="none" stroke="#303030" stroke-width="1.0" />
<path d="M529.2 397.9 Q538.9 403.9 542.1 413.1" fill="none" stroke="#303030" stroke-width="1.0" />
<path d="M529.2 397.9 Q528.8 414.7 516.4 422.4" fill="none" stroke="#303030" stroke-width="1.0" />
<path d="M516.4 422.4 Q526.0 428.4 529.2 437.6" fill="none" stroke="#303030" stroke-width="1.0" />
<path d="M516.4 422.4 Q515.9 439.2 503.6 446.9" fill="none" stroke="#303030" stroke-width="1.0" />
<path d="M503.6 446.9 Q513.1 452.9 516.4 462.1" fill="none" stroke="#303030" stroke-width="1.0" />
<path d="M503.6 446.9 Q503.1 463.7 490.7 471.4" fill="none" stroke="#303030" stroke-width="1.0" />
<path d="M567.8 364.1 Q577.4 370.1 580.6 379.3" fill="none" stroke="#303030" stroke-width="1.0" />
<path d="M567.8 364.1 Q567.3 380.9 554.9 388.6" fill="none" stroke="#303030" stroke-width="1.0" />
<path d="M554.9 388.6 Q564.5 394.6 567.8 403.8" fill="none" stroke="#303030" stroke-width="1.0" />
<path d="M554.9 388.6 Q554.4 405.4 542.1 413.1" fill="none" stroke="#303030" stroke-width="1.0" />
<path d="M542.1 413.1 Q551.7 419.1 555.0 428.3" fill="none" stroke="#303030" stroke-width="1.0" />
<path d="M542.1 413.1 Q541.6 429.9 529.2 437.6" fill="none" stroke="#303030" stroke-width="1.0" />
<path d="M529.2 437.6 Q538.9 443.6 542.1 452.8" fill="none" stroke="#303030" stroke-width="1.0" />
<path d="M529.2 437.6 Q528.8 454.4 516.4 462.1" fill="none" stroke="#303030" stroke-width="1.0" />
<path d="M580.6 379.3 Q590.2 385.3 593.5 394.5" fill="none" stroke="#303030" stroke-width="1.0" />
<path d="M580.6 379.3 Q580.1 396.1 567.8 403.8" fill="none" stroke="#303030" stroke-width="1.0" />
<path d="M567.8 403.8 Q577.4 409.8 580.6 419.0" fill="none" stroke="#303030" stroke-width="1.0" />
<path d="M567.8 403.8 Q567.3 420.6 555.0 428.3" fill="none" stroke="#303030" stroke-width="1.0" />
<path d="M555.0 428.3 Q564.6 434.3 567.8 443.5" fill="none" stroke="#303030" stroke-width="1.0" />
<path d="M555.0 428.3 Q554.5 445.1 542.1 452.8" fill="none" stroke="#303030" stroke-width="1.0" />
<path d="M606.4 370.0 Q616.0 376.0 619.2 385.2" fill="none" stroke="#303030" stroke-width="1.0" />
<path d="M606.4 370.0 Q605.9 386.8 593.5 394.5" fill="none" stroke="#303030" stroke-width="1.0" />
<path d="M593.5 394.5 Q603.1 400.5 606.4 409.7" fill="none" stroke="#303030" stroke-width="1.0" />
<path d="M593.5 394.5 Q593.0 411.3 580.6 419.0" fill="none" stroke="#303030" stroke-width="1.0" />
<path d="M580.6 419.0 Q590.2 425.0 593.5 434.2" fill="none" stroke="#303030" stroke-width="1.0" />
<path d="M580.6 419.0 Q580.1 435.8 567.8 443.5" fill="none" stroke="#303030" stroke-width="1.0" />
<path d="M632.1 360.7 Q641.7 366.7 644.9 375.9" fill="none" stroke="#303030" stroke-width="1.0" />
<path d="M632.1 360.7 Q631.6 377.5 619.2 385.2" fill="none" stroke="#303030" stroke-width="1.0" />
<path d="M619.2 385.2 Q618.7 402.0 606.4 409.7" fill="none" stroke="#303030" stroke-width="1.0" />
<path d="M606.4 409.7 Q616.0 415.7 619.2 424.9" fill="none" stroke="#303030" stroke-width="1.0" />
<path d="M606.4 409.7 Q605.9 426.5 593.5 434.2" fill="none" stroke="#303030" stroke-width="1.0" />
<path d="M644.9 375.9 Q654.5 381.9 657.8 391.1" fill="none" stroke="#303030" stroke-width="1.0" />
<path d="M644.9 375.9 Q644.4 392.7 632.0 400.4" fill="none" stroke="#303030" stroke-width="1.0" />
</g>
<circle cx="426.4" cy="474.8" r="1.65" fill="#fff" stroke="#303030" stroke-width="0.95"/>
<circle cx="413.6" cy="499.3" r="1.65" fill="#fff" stroke="#303030" stroke-width="0.95"/>
<circle cx="452.1" cy="465.5" r="1.65" fill="#fff" stroke="#303030" stroke-width="0.95"/>
<circle cx="439.3" cy="490.0" r="1.65" fill="#fff" stroke="#303030" stroke-width="0.95"/>
<circle cx="490.7" cy="431.7" r="1.65" fill="#fff" stroke="#303030" stroke-width="0.95"/>
<circle cx="477.8" cy="456.2" r="1.65" fill="#fff" stroke="#303030" stroke-width="0.95"/>
<circle cx="465.0" cy="480.7" r="1.65" fill="#fff" stroke="#303030" stroke-width="0.95"/>
<circle cx="516.4" cy="422.4" r="1.65" fill="#fff" stroke="#303030" stroke-width="0.95"/>
<circle cx="503.6" cy="446.9" r="1.65" fill="#fff" stroke="#303030" stroke-width="0.95"/>
<circle cx="490.7" cy="471.4" r="1.65" fill="#fff" stroke="#303030" stroke-width="0.95"/>
<circle cx="542.1" cy="413.1" r="1.65" fill="#fff" stroke="#303030" stroke-width="0.95"/>
<circle cx="529.2" cy="437.6" r="1.65" fill="#fff" stroke="#303030" stroke-width="0.95"/>
<circle cx="516.4" cy="462.1" r="1.65" fill="#fff" stroke="#303030" stroke-width="0.95"/>
<circle cx="555.0" cy="428.3" r="1.65" fill="#fff" stroke="#303030" stroke-width="0.95"/>
<circle cx="542.1" cy="452.8" r="1.65" fill="#fff" stroke="#303030" stroke-width="0.95"/>
<circle cx="580.6" cy="419.0" r="1.65" fill="#fff" stroke="#303030" stroke-width="0.95"/>
<circle cx="567.8" cy="443.5" r="1.65" fill="#fff" stroke="#303030" stroke-width="0.95"/>
<circle cx="606.4" cy="409.7" r="1.65" fill="#fff" stroke="#303030" stroke-width="0.95"/>
<circle cx="593.5" cy="434.2" r="1.65" fill="#fff" stroke="#303030" stroke-width="0.95"/>
<circle cx="619.2" cy="424.9" r="1.65" fill="#fff" stroke="#303030" stroke-width="0.95"/>
<line x1="439.3" y1="491.3" x2="440.0" y2="503.6" stroke="#303030" stroke-width="1.0" />
<line x1="465.0" y1="482.0" x2="465.7" y2="494.3" stroke="#303030" stroke-width="1.0" />
<line x1="490.7" y1="472.7" x2="491.4" y2="485.0" stroke="#303030" stroke-width="1.0" />
<line x1="516.4" y1="463.4" x2="517.1" y2="475.7" stroke="#303030" stroke-width="1.0" />
<line x1="542.1" y1="454.1" x2="542.8" y2="466.4" stroke="#303030" stroke-width="1.0" />
<line x1="567.8" y1="444.8" x2="568.5" y2="457.1" stroke="#303030" stroke-width="1.0" />
<line x1="593.5" y1="435.5" x2="594.2" y2="447.8" stroke="#303030" stroke-width="1.0" />
<line x1="619.3" y1="426.2" x2="620.0" y2="435.0" stroke="#303030" stroke-width="1.0" />
<path d="M412.4 499.6 Q406 500.5 400 503.4" fill="none" stroke="#303030" stroke-width="1.0" />
<path d="M620.5 424.3 Q627 422.8 632.6 420.6" fill="none" stroke="#303030" stroke-width="1.0" />
<path d="M395.0 513.8 L395.0 531.4 L400.0 531.4 L410.7 528.6 L413.4 500.6" fill="none" stroke="#303030" stroke-width="1.0" />
<line x1="400.0" y1="515.7" x2="400.0" y2="531.4" stroke="#303030" stroke-width="1.0" />
<path d="M610.0 443.3 L612.1 450.0 L616.4 451.4 L627.1 447.9 L627.1 434.3" fill="none" stroke="#303030" stroke-width="1.0" />
<line x1="615.0" y1="441.8" x2="616.4" y2="451.4" stroke="#303030" stroke-width="1.0" />
<line x1="66.5" y1="105.5" x2="66.5" y2="258.0" stroke="#1e1e1e" stroke-width="1.15" stroke-dasharray="2 1.45"/>
<line x1="336.4" y1="105.5" x2="336.4" y2="153.5" stroke="#1e1e1e" stroke-width="1.15" stroke-dasharray="2 1.45"/>
<line x1="80.5" y1="417.0" x2="80.5" y2="620.0" stroke="#1e1e1e" stroke-width="1.15" stroke-dasharray="2 1.45"/>
<line x1="82.8" y1="417.0" x2="82.8" y2="584.5" stroke="#1e1e1e" stroke-width="1.15" stroke-dasharray="2 1.45"/>
<line x1="232.4" y1="474.5" x2="232.4" y2="558.5" stroke="#1e1e1e" stroke-width="1.15" stroke-dasharray="2 1.45"/>
<line x1="242.3" y1="475.0" x2="242.3" y2="558.5" stroke="#1e1e1e" stroke-width="1.15" stroke-dasharray="2 1.45"/>
<line x1="394.8" y1="532.0" x2="394.8" y2="594.5" stroke="#1e1e1e" stroke-width="1.15" stroke-dasharray="2 1.45"/>
<line x1="400.3" y1="532.0" x2="400.3" y2="620.0" stroke="#1e1e1e" stroke-width="1.15" stroke-dasharray="2 1.45"/>
<line x1="411.0" y1="529.0" x2="411.0" y2="586.0" stroke="#1e1e1e" stroke-width="1.15" stroke-dasharray="2 1.45"/>
<line x1="616.8" y1="452.0" x2="616.8" y2="574.0" stroke="#1e1e1e" stroke-width="1.15" stroke-dasharray="2 1.45"/>
<line x1="627.2" y1="449.0" x2="627.2" y2="616.5" stroke="#1e1e1e" stroke-width="1.15" stroke-dasharray="2 1.45"/>
<polygon points="66.8,122.8 74.3,119.2 74.3,126.4" fill="#1a1a1a"/>
<polygon points="335.8,122.8 328.3,126.4 328.3,119.2" fill="#1a1a1a"/>
<line x1="72.8" y1="122.8" x2="178.6" y2="122.8" stroke="#3e3a3a" stroke-width="1.25" />
<line x1="225.0" y1="122.8" x2="329.8" y2="122.8" stroke="#3e3a3a" stroke-width="1.25" />
<text x="202.4" y="126.4" font-size="12.25" text-anchor="middle" stroke="#1a1a1a" stroke-width="0.25">69.00&quot;</text>
<polygon points="59.6,172.8 63.2,180.3 56.0,180.3" fill="#1a1a1a"/>
<polygon points="59.6,418.8 56.0,411.3 63.2,411.3" fill="#1a1a1a"/>
<line x1="59.6" y1="178.8" x2="59.6" y2="412.8" stroke="#3e3a3a" stroke-width="1.25" />
<text x="36.8" y="305.8" font-size="12.25" text-anchor="middle" stroke="#1a1a1a" stroke-width="0.25">55.25&quot;</text>
<polygon points="83.7,542.2 91.2,538.6 91.2,545.8" fill="#1a1a1a"/>
<polygon points="232.0,542.2 224.5,545.8 224.5,538.6" fill="#1a1a1a"/>
<line x1="89.7" y1="542.2" x2="125.2" y2="542.2" stroke="#3e3a3a" stroke-width="1.25" />
<line x1="176.6" y1="542.2" x2="226.0" y2="542.2" stroke="#3e3a3a" stroke-width="1.25" />
<text x="150.4" y="546.0" font-size="12.25" text-anchor="middle" stroke="#1a1a1a" stroke-width="0.25">40.00&quot;</text>
<polygon points="242.6,542.2 250.1,538.6 250.1,545.8" fill="#1a1a1a"/>
<polygon points="393.8,542.2 386.3,545.8 386.3,538.6" fill="#1a1a1a"/>
<line x1="248.6" y1="542.2" x2="288.0" y2="542.2" stroke="#3e3a3a" stroke-width="1.25" />
<line x1="338.6" y1="542.2" x2="387.8" y2="542.2" stroke="#3e3a3a" stroke-width="1.25" />
<text x="312.5" y="546.0" font-size="12.25" text-anchor="middle" stroke="#1a1a1a" stroke-width="0.25">40.00&quot;</text>
<polygon points="83.7,575.7 91.2,572.1 91.2,579.3" fill="#1a1a1a"/>
<polygon points="393.8,575.7 386.3,579.3 386.3,572.1" fill="#1a1a1a"/>
<line x1="89.7" y1="575.7" x2="213.0" y2="575.7" stroke="#3e3a3a" stroke-width="1.25" />
<line x1="265.7" y1="575.7" x2="387.8" y2="575.7" stroke="#3e3a3a" stroke-width="1.25" />
<text x="239.3" y="580.3" font-size="12.25" text-anchor="middle" stroke="#1a1a1a" stroke-width="0.25">85.00&quot;</text>
<polygon points="80.8,610.9 88.3,607.3 88.3,614.5" fill="#1a1a1a"/>
<polygon points="400.0,610.9 392.5,614.5 392.5,607.3" fill="#1a1a1a"/>
<line x1="86.8" y1="610.9" x2="212.5" y2="610.9" stroke="#3e3a3a" stroke-width="1.25" />
<line x1="263.5" y1="610.9" x2="394.0" y2="610.9" stroke="#3e3a3a" stroke-width="1.25" />
<text x="240.2" y="614.6" font-size="12.25" text-anchor="middle" stroke="#1a1a1a" stroke-width="0.25">86.50&quot;</text>
<polygon points="412.3,575.4 419.8,571.8 419.8,579.0" fill="#1a1a1a"/>
<polygon points="617.3,575.4 609.8,579.0 609.8,571.8" fill="#1a1a1a"/>
<line x1="418.3" y1="575.4" x2="486.4" y2="575.4" stroke="#3e3a3a" stroke-width="1.25" />
<line x1="537.2" y1="575.4" x2="611.3" y2="575.4" stroke="#3e3a3a" stroke-width="1.25" />
<text x="511.8" y="580.0" font-size="12.25" text-anchor="middle" stroke="#1a1a1a" stroke-width="0.25">55.75&quot;</text>
<polygon points="401.6,611.2 409.1,607.6 409.1,614.8" fill="#1a1a1a"/>
<polygon points="627.3,611.2 619.8,614.8 619.8,607.6" fill="#1a1a1a"/>
<line x1="407.6" y1="611.2" x2="483.8" y2="611.2" stroke="#3e3a3a" stroke-width="1.25" />
<line x1="536.4" y1="611.2" x2="621.3" y2="611.2" stroke="#3e3a3a" stroke-width="1.25" />
<text x="511.2" y="615.2" font-size="12.25" text-anchor="middle" stroke="#1a1a1a" stroke-width="0.25">61.00&quot;</text>
<polygon points="642.0,378.4 645.6,385.9 638.4,385.9" fill="#1a1a1a"/>
<polygon points="642.0,449.4 638.4,441.9 645.6,441.9" fill="#1a1a1a"/>
<line x1="642.0" y1="384.4" x2="642.0" y2="443.4" stroke="#3e3a3a" stroke-width="1.25" />
<text x="663.3" y="418.8" font-size="12.25" text-anchor="middle" stroke="#1a1a1a" stroke-width="0.25">21.75&quot;</text>
<polygon points="422.4,512.6 426.0,519.2 418.8,519.2" fill="#1a1a1a"/>
<polygon points="422.4,529.4 418.8,522.8 426.0,522.8" fill="#1a1a1a"/>
<line x1="422.4" y1="518.6" x2="422.4" y2="523.4" stroke="#3e3a3a" stroke-width="1.25" />
<text x="442.9" y="525.0" font-size="12.25" text-anchor="middle" stroke="#1a1a1a" stroke-width="0.25">4.00&quot;</text>
<polygon points="327.1,390.2 330.7,397.7 323.5,397.7" fill="#1a1a1a"/>
<polygon points="327.1,414.0 323.5,406.5 330.7,406.5" fill="#1a1a1a"/>
<line x1="327.1" y1="396.2" x2="327.1" y2="408.0" stroke="#3e3a3a" stroke-width="1.25" />
<text x="347.0" y="405.6" font-size="12.25" text-anchor="middle" stroke="#1a1a1a" stroke-width="0.25">6.50&quot;</text>
<polygon points="411.4,327.0 415.0,334.5 407.8,334.5" fill="#1a1a1a"/>
<polygon points="411.4,349.0 407.8,341.5 415.0,341.5" fill="#1a1a1a"/>
<line x1="411.4" y1="333.0" x2="411.4" y2="343.0" stroke="#3e3a3a" stroke-width="1.25" />
<text x="432.2" y="340.4" font-size="12.25" text-anchor="middle" stroke="#1a1a1a" stroke-width="0.25">4.25&quot;</text>
<polygon points="297.9,265.9 301.5,273.4 294.3,273.4" fill="#1a1a1a"/>
<polygon points="297.9,341.4 294.3,333.9 301.5,333.9" fill="#1a1a1a"/>
<line x1="297.9" y1="271.9" x2="297.9" y2="335.4" stroke="#3e3a3a" stroke-width="1.25" />
<text x="276.0" y="309.3" font-size="12.25" text-anchor="middle" stroke="#1a1a1a" stroke-width="0.25">23.25&quot;</text>
<line x1="99.0" y1="330.8" x2="296.0" y2="260.2" stroke="#3e3a3a" stroke-width="1.25" />
<polygon points="95.0,332.4 102.8,332.8 100.4,327.0" fill="#1a1a1a"/>
<polygon points="294.5,257.3 301.7,257.3 298.1,263.0" fill="#1a1a1a"/>
<text x="171.0" y="320.8" font-size="12.25" text-anchor="middle" stroke="#1a1a1a" stroke-width="0.25">57.00&quot;</text>
</svg></body></html>
